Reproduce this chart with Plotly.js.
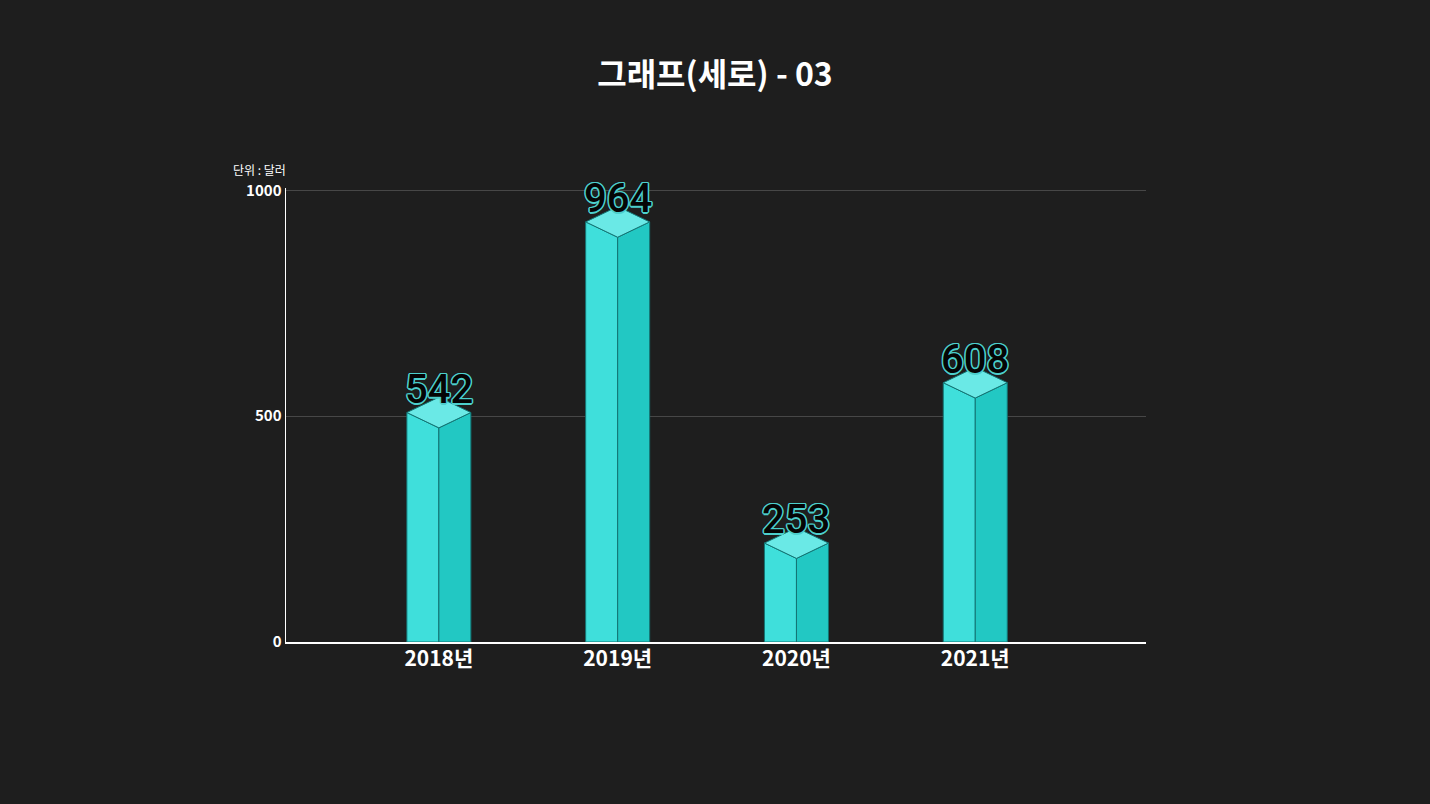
<!DOCTYPE html>
<html>
<head>
<meta charset="utf-8">
<script src="https://cdn.plot.ly/plotly-3.0.1.min.js"></script>
<style>
html,body{margin:0;padding:0;background:#1e1e1e;}
#chart{width:1430px;height:804px;}
</style>
</head>
<body>
<div id="chart"></div>
<script>
const categories = ["2018년", "2019년", "2020년", "2021년"];
const values = [542, 964, 253, 608];
const titleText = "그래프(세로) - 03";
const unitText = "단위 : 달러";
const yTicks = [0, 500, 1000];

const halfW = 0.179;   // half bar width in category units
const dy = 34;         // diamond half-height in value units
const colLeft = "#3fdfdb";
const colRight = "#22c8c3";
const colTop = "#6ae9e6";
const edge = "#137574";
const kr = "'Noto Sans CJK KR', 'Noto Sans', sans-serif";

const traces = [];
values.forEach((v, i) => {
  const side = v - dy, front = v - 2 * dy;
  traces.push({x:[i-halfW, i-halfW, i, i, i-halfW], y:[0, side, front, 0, 0],
    type:"scatter", mode:"lines", fill:"toself", fillcolor:colLeft,
    line:{color:edge, width:1}, hoverinfo:"skip", showlegend:false});
  traces.push({x:[i, i, i+halfW, i+halfW, i], y:[0, front, side, 0, 0],
    type:"scatter", mode:"lines", fill:"toself", fillcolor:colRight,
    line:{color:edge, width:1}, hoverinfo:"skip", showlegend:false});
  traces.push({x:[i-halfW, i, i+halfW, i, i-halfW], y:[side, v, side, front, side],
    type:"scatter", mode:"lines", fill:"toself", fillcolor:colTop,
    line:{color:edge, width:1}, hoverinfo:"skip", showlegend:false});
});

const o = "#4ccfcc";
const shadow = ["-1px -1px 0 "+o, "1px -1px 0 "+o, "-1px 1px 0 "+o, "1px 1px 0 "+o,
  "0 -1.5px 0 "+o, "0 1.5px 0 "+o, "-1.5px 0 0 "+o, "1.5px 0 0 "+o].join(", ");

const annotations = values.map((v, i) => ({
  x: i, y: v, xref: "x", yref: "y", text: String(v), showarrow: false,
  xanchor: "center", yanchor: "middle", yshift: 8,
  font: {family: "Roboto, sans-serif", size: 40, color: "#050505", weight: 500, shadow: shadow}
}));
annotations.push({
  x: 0, y: 1, xref: "paper", yref: "paper", text: unitText, showarrow: false,
  xanchor: "right", yanchor: "bottom", yshift: 8, xshift: 2,
  font: {family: kr, size: 12, color: "#ffffff"}
});

const layout = {
  width: 1430, height: 804,
  paper_bgcolor: "#1e1e1e", plot_bgcolor: "#1e1e1e",
  margin: {l: 286, r: 284, t: 188, b: 162},
  title: {text: titleText, x: 0.5, xanchor: "center", y: 0.907, yanchor: "middle",
    font: {family: kr, size: 32, color: "#ffffff", weight: "bold"}},
  xaxis: {range: [-0.855, 3.955], tickvals: [0, 1, 2, 3], ticktext: categories,
    showgrid: false, zeroline: false, showline: true, linecolor: "#ffffff", linewidth: 1.5,
    ticks: "", ticklabelstandoff: -3, tickfont: {family: kr, size: 21, color: "#ffffff", weight: "bold"}, fixedrange: true},
  yaxis: {range: [0, 1005], tickvals: yTicks, ticktext: yTicks.map(String),
    showgrid: true, gridcolor: "#474747", gridwidth: 1, zeroline: false,
    showline: true, linecolor: "#ffffff", linewidth: 1.5, ticks: "",
    tickfont: {family: kr, size: 15, color: "#ffffff", weight: "bold"}, fixedrange: true},
  annotations: annotations,
  showlegend: false
};

Plotly.newPlot("chart", traces, layout, {displayModeBar: false, staticPlot: true});
</script>
</body>
</html>
